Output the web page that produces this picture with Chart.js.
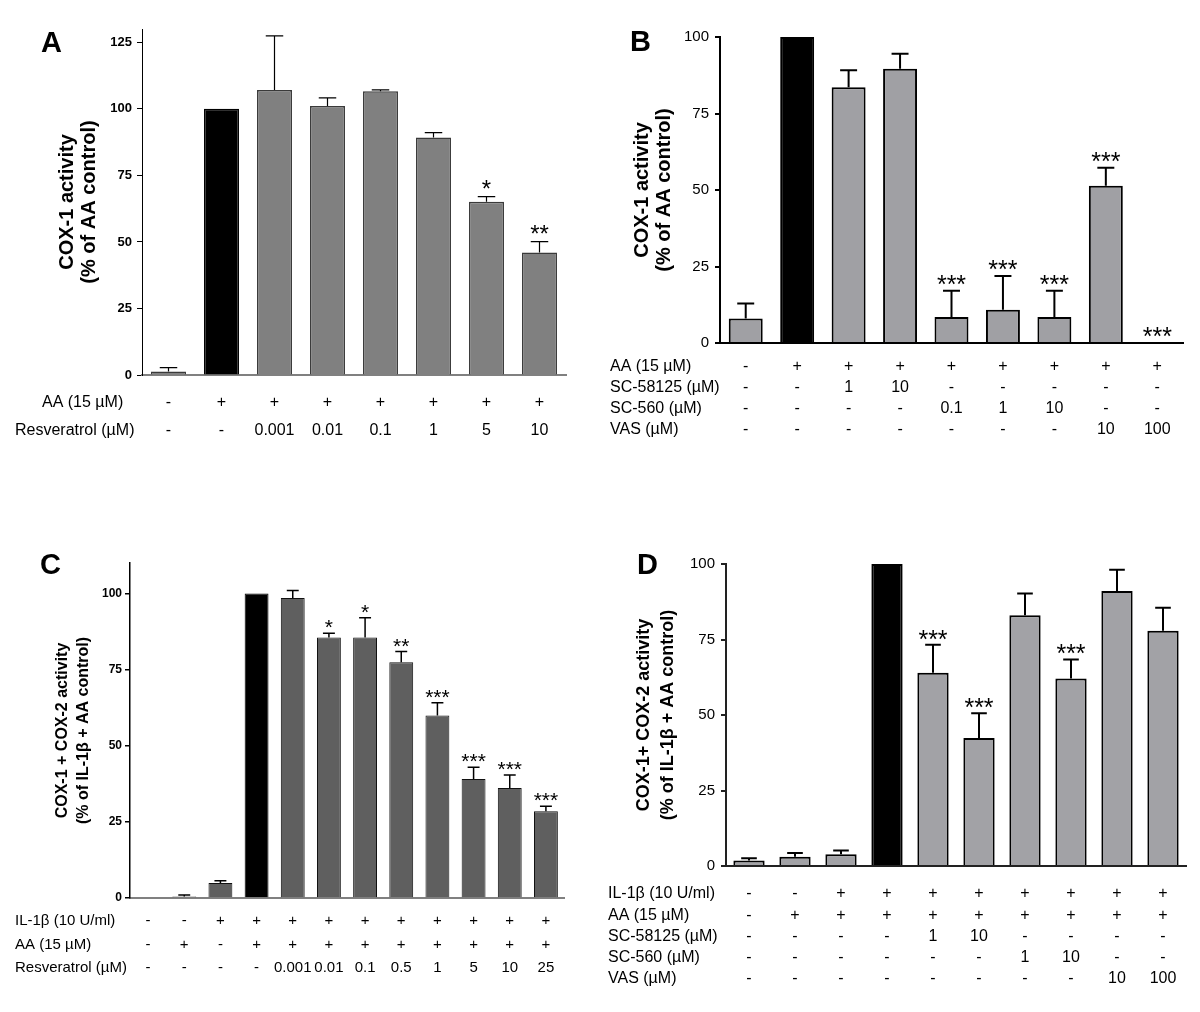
<!DOCTYPE html>
<html>
<head>
<meta charset="utf-8">
<title>COX activity panels</title>
<script src="https://cdn.jsdelivr.net/npm/chart.js@4.4.1/dist/chart.umd.min.js"></script>
<style>
  html, body { margin: 0; padding: 0; background: #fff; }
  body { width: 1200px; height: 1012px; position: relative; overflow: hidden; font-family: 'Liberation Sans', Arial, sans-serif; }
  canvas { position: absolute; }
  .letter { position: absolute; font-weight: bold; font-size: 29px; line-height: 1; color: #000; }
</style>
</head>
<body>
<canvas id="chartA" width="600" height="470" style="left:0;top:0"></canvas>
<canvas id="chartB" width="600" height="470" style="left:600px;top:0"></canvas>
<canvas id="chartC" width="600" height="472" style="left:0;top:540px"></canvas>
<canvas id="chartD" width="600" height="472" style="left:600px;top:540px"></canvas>
<div class="letter" style="left:41px;top:28px">A</div>
<div class="letter" style="left:630px;top:27px">B</div>
<div class="letter" style="left:40px;top:550px">C</div>
<div class="letter" style="left:637px;top:550px">D</div>
<script>
// Panel A - COX-1, resveratrol
const aRowNames = ['AA (15 µM)', 'Resveratrol (µM)'];
const aAA = ['-', '+', '+', '+', '+', '+', '+', '+'];
const aResv = ['-', '-', '0.001', '0.01', '0.1', '1', '5', '10'];
const aValues = [1.3, 100, 107.1, 101.1, 106.6, 89.2, 65.1, 46.0];
const aErrors = [1.5, 0, 20.3, 3.0, 0.5, 1.9, 1.9, 4.1];
const aStars = ['', '', '', '', '', '', '*', '**'];
const aTicks = [0, 25, 50, 75, 100, 125];

// Panel B - COX-1, selective inhibitors
const bRowNames = ['AA (15 µM)', 'SC-58125 (µM)', 'SC-560 (µM)', 'VAS (µM)'];
const bAA = ['-', '+', '+', '+', '+', '+', '+', '+', '+'];
const bSC58125 = ['-', '-', '1', '10', '-', '-', '-', '-', '-'];
const bSC560 = ['-', '-', '-', '-', '0.1', '1', '10', '-', '-'];
const bVAS = ['-', '-', '-', '-', '-', '-', '-', '10', '100'];
const bValues = [8.0, 100, 83.6, 89.6, 8.5, 10.9, 8.5, 51.4, 0];
const bErrors = [4.9, 0, 5.5, 4.9, 8.6, 11.0, 8.6, 5.9, 0];
const bStars = ['', '', '', '', '***', '***', '***', '***', '***'];
const bTicks = [0, 25, 50, 75, 100];

// Panel C - COX-1 + COX-2, resveratrol
const cRowNames = ['IL-1β (10 U/ml)', 'AA (15 µM)', 'Resveratrol (µM)'];
const cIL = ['-', '-', '+', '+', '+', '+', '+', '+', '+', '+', '+', '+'];
const cAA = ['-', '+', '-', '+', '+', '+', '+', '+', '+', '+', '+', '+'];
const cResv = ['-', '-', '-', '-', '0.001', '0.01', '0.1', '0.5', '1', '5', '10', '25'];
const cValues = [0, 0.5, 4.9, 100, 98.5, 85.5, 85.5, 77.4, 59.9, 39.1, 36.1, 28.5];
const cErrors = [0, 0.5, 0.8, 0, 2.5, 1.4, 6.5, 3.5, 4.2, 3.8, 4.3, 1.6];
const cStars = ['', '', '', '', '', '*', '*', '**', '***', '***', '***', '***'];
const cTicks = [0, 25, 50, 75, 100];

// Panel D - COX-1 + COX-2, selective inhibitors
const dRowNames = ['IL-1β (10 U/ml)', 'AA (15 µM)', 'SC-58125 (µM)', 'SC-560 (µM)', 'VAS (µM)'];
const dIL = ['-', '-', '+', '+', '+', '+', '+', '+', '+', '+'];
const dAA = ['-', '+', '+', '+', '+', '+', '+', '+', '+', '+'];
const dSC58125 = ['-', '-', '-', '-', '1', '10', '-', '-', '-', '-'];
const dSC560 = ['-', '-', '-', '-', '-', '-', '1', '10', '-', '-'];
const dVAS = ['-', '-', '-', '-', '-', '-', '-', '-', '10', '100'];
const dValues = [1.8, 3.1, 3.9, 100, 64.0, 42.4, 83.0, 62.1, 91.1, 77.9];
const dErrors = [0.8, 1.2, 1.2, 0, 9.3, 8.2, 7.2, 6.3, 7.0, 7.6];
const dStars = ['', '', '', '', '***', '***', '', '***', '', ''];
const dTicks = [0, 25, 50, 75, 100];

// error bars, significance stars and the treatment table under each panel
const extrasPlugin = {
    id: 'extras',
    afterDatasetsDraw(chart, args, o) {
        const ctx = chart.ctx;
        const bars = chart.getDatasetMeta(0).data;
        const y = chart.scales.y;
        const values = chart.data.datasets[0].data;
        ctx.save();
        ctx.strokeStyle = '#000';
        ctx.lineWidth = o.errWidth;
        bars.forEach((bar, i) => {
            const err = o.errors[i];
            if (!err) return;
            const yTop = y.getPixelForValue(values[i] + err);
            const half = bar.width / 4;
            ctx.beginPath();
            ctx.moveTo(bar.x, bar.y);
            ctx.lineTo(bar.x, yTop);
            ctx.moveTo(bar.x - half, yTop);
            ctx.lineTo(bar.x + half, yTop);
            ctx.stroke();
        });
        ctx.fillStyle = '#000';
        ctx.font = o.starFont;
        ctx.textAlign = 'center';
        ctx.textBaseline = 'alphabetic';
        bars.forEach((bar, i) => {
            if (!o.stars[i]) return;
            const yTop = y.getPixelForValue(values[i] + o.errors[i]);
            ctx.fillText(o.stars[i], bar.x, yTop - o.starGap);
        });
        ctx.font = o.tableFont;
        ctx.textBaseline = 'middle';
        o.rows.forEach((row, r) => {
            const ty = chart.chartArea.bottom + o.rowStart + r * o.rowGap;
            ctx.textAlign = 'left';
            ctx.fillText(o.rowNames[r], o.labelX[r], ty);
            ctx.textAlign = 'center';
            row.forEach((cell, i) => ctx.fillText(cell, bars[i].x, ty));
        });
        ctx.restore();
    }
};

function makePanel(id, p) {
    const ctx = document.getElementById(id).getContext('2d');
    return new Chart(ctx, {
        type: 'bar',
        data: {
            labels: p.rows[p.rows.length - 1],
            datasets: [{
                data: p.values,
                backgroundColor: p.values.map((v, i) => i === p.control ? '#000' : p.fill),
                borderColor: p.values.map((v, i) => i === p.control ? '#000' : p.border),
                borderWidth: p.borderWidth,
                borderSkipped: 'bottom',
                barPercentage: p.barPct,
                categoryPercentage: 1
            }]
        },
        options: {
            responsive: false,
            animation: false,
            layout: {
                padding: { left: 0, top: p.area.top, right: p.width - p.area.right, bottom: p.height - p.area.bottom }
            },
            plugins: {
                legend: { display: false },
                tooltip: { enabled: false },
                extras: {
                    errors: p.errors,
                    stars: p.stars,
                    rows: p.rows,
                    rowNames: p.rowNames,
                    errWidth: p.errWidth,
                    starFont: p.starFont,
                    starGap: p.starGap,
                    tableFont: p.tableFont,
                    rowStart: p.rowStart,
                    rowGap: p.rowGap,
                    labelX: p.labelX
                }
            },
            scales: {
                x: {
                    grid: { display: false, drawTicks: false },
                    ticks: { display: false },
                    border: { display: true, color: p.xAxisColor, width: 2 },
                    afterFit(scale) { scale.height = 0; }
                },
                y: {
                    min: 0,
                    max: p.max,
                    afterBuildTicks(scale) { scale.ticks = p.ticks.map(v => ({ value: v })); },
                    afterFit(scale) { scale.width = p.area.left; },
                    grid: { display: true, drawOnChartArea: false, drawTicks: true, tickLength: 5, color: p.yAxisColor, lineWidth: p.yAxisWidth },
                    border: { display: true, color: p.yAxisColor, width: p.yAxisWidth },
                    ticks: { color: '#000', padding: p.tickPad, font: p.tickFont },
                    title: {
                        display: true,
                        text: p.title,
                        color: '#000',
                        font: p.titleFont,
                        padding: { top: p.titlePad, bottom: 0 }
                    }
                }
            }
        },
        plugins: [extrasPlugin]
    });
}

const fam = "'Liberation Sans', Arial, sans-serif";

makePanel('chartA', {
    width: 600, height: 470,
    area: { left: 142, right: 566, top: 29, bottom: 375 },
    max: 130, ticks: aTicks,
    values: aValues, errors: aErrors, stars: aStars,
    rows: [aAA, aResv], rowNames: aRowNames,
    control: 1, fill: '#808080', border: '#3a3a3a', borderWidth: 1.5, barPct: 0.66,
    errWidth: 1.2, starFont: '24px ' + fam, starGap: 0,
    tableFont: '16px ' + fam, rowStart: 28, rowGap: 27.5, labelX: [42, 15],
    xAxisColor: '#808080', yAxisColor: '#000', yAxisWidth: 1,
    tickPad: 5, tickFont: { family: fam, size: 13, weight: 'bold' },
    title: ['COX-1 activity', '(% of AA control)'],
    titleFont: { family: fam, size: 20, weight: 'bold', lineHeight: 1.1 }, titlePad: 56
});

makePanel('chartB', {
    width: 600, height: 470,
    area: { left: 120, right: 583, top: 37, bottom: 343 },
    max: 100, ticks: bTicks,
    values: bValues, errors: bErrors, stars: bStars,
    rows: [bAA, bSC58125, bSC560, bVAS], rowNames: bRowNames,
    control: 1, fill: '#a0a0a4', border: '#000', borderWidth: 2, barPct: 0.66,
    errWidth: 2, starFont: '25px ' + fam, starGap: -2,
    tableFont: '16px ' + fam, rowStart: 24, rowGap: 21, labelX: [10, 10, 10, 10],
    xAxisColor: '#000', yAxisColor: '#000', yAxisWidth: 2,
    tickPad: 6, tickFont: { family: fam, size: 15 },
    title: ['COX-1 activity', '(% of AA control)'],
    titleFont: { family: fam, size: 20, weight: 'bold', lineHeight: 1.1 }, titlePad: 31
});

makePanel('chartC', {
    width: 600, height: 472,
    area: { left: 130, right: 564, top: 23, bottom: 358 },
    max: 110, ticks: cTicks,
    values: cValues, errors: cErrors, stars: cStars,
    rows: [cIL, cAA, cResv], rowNames: cRowNames,
    control: 3, fill: '#5f5f5f', border: '#111', borderWidth: 1, barPct: 0.66,
    errWidth: 1.5, starFont: '21px ' + fam, starGap: -1,
    tableFont: '15px ' + fam, rowStart: 23, rowGap: 23.5, labelX: [15, 15, 15],
    xAxisColor: '#808080', yAxisColor: '#000', yAxisWidth: 1.5,
    tickPad: 3, tickFont: { family: fam, size: 12, weight: 'bold' },
    title: ['COX-1 + COX-2 activity', '(% of IL-1β + AA control)'],
    titleFont: { family: fam, size: 16, weight: 'bold', lineHeight: 1.3 }, titlePad: 52
});

makePanel('chartD', {
    width: 600, height: 472,
    area: { left: 126, right: 586, top: 24, bottom: 326 },
    max: 100, ticks: dTicks,
    values: dValues, errors: dErrors, stars: dStars,
    rows: [dIL, dAA, dSC58125, dSC560, dVAS], rowNames: dRowNames,
    control: 3, fill: '#a2a2a6', border: '#000', borderWidth: 2, barPct: 0.68,
    errWidth: 2, starFont: '25px ' + fam, starGap: -3,
    tableFont: '16px ' + fam, rowStart: 28, rowGap: 21.25, labelX: [8, 8, 8, 8, 8],
    xAxisColor: '#222', yAxisColor: '#222', yAxisWidth: 2,
    tickPad: 6, tickFont: { family: fam, size: 15 },
    title: ['COX-1+ COX-2 activity', '(% of IL-1β + AA control)'],
    titleFont: { family: fam, size: 18, weight: 'bold', lineHeight: 1.35 }, titlePad: 32
});
</script>
</body>
</html>
